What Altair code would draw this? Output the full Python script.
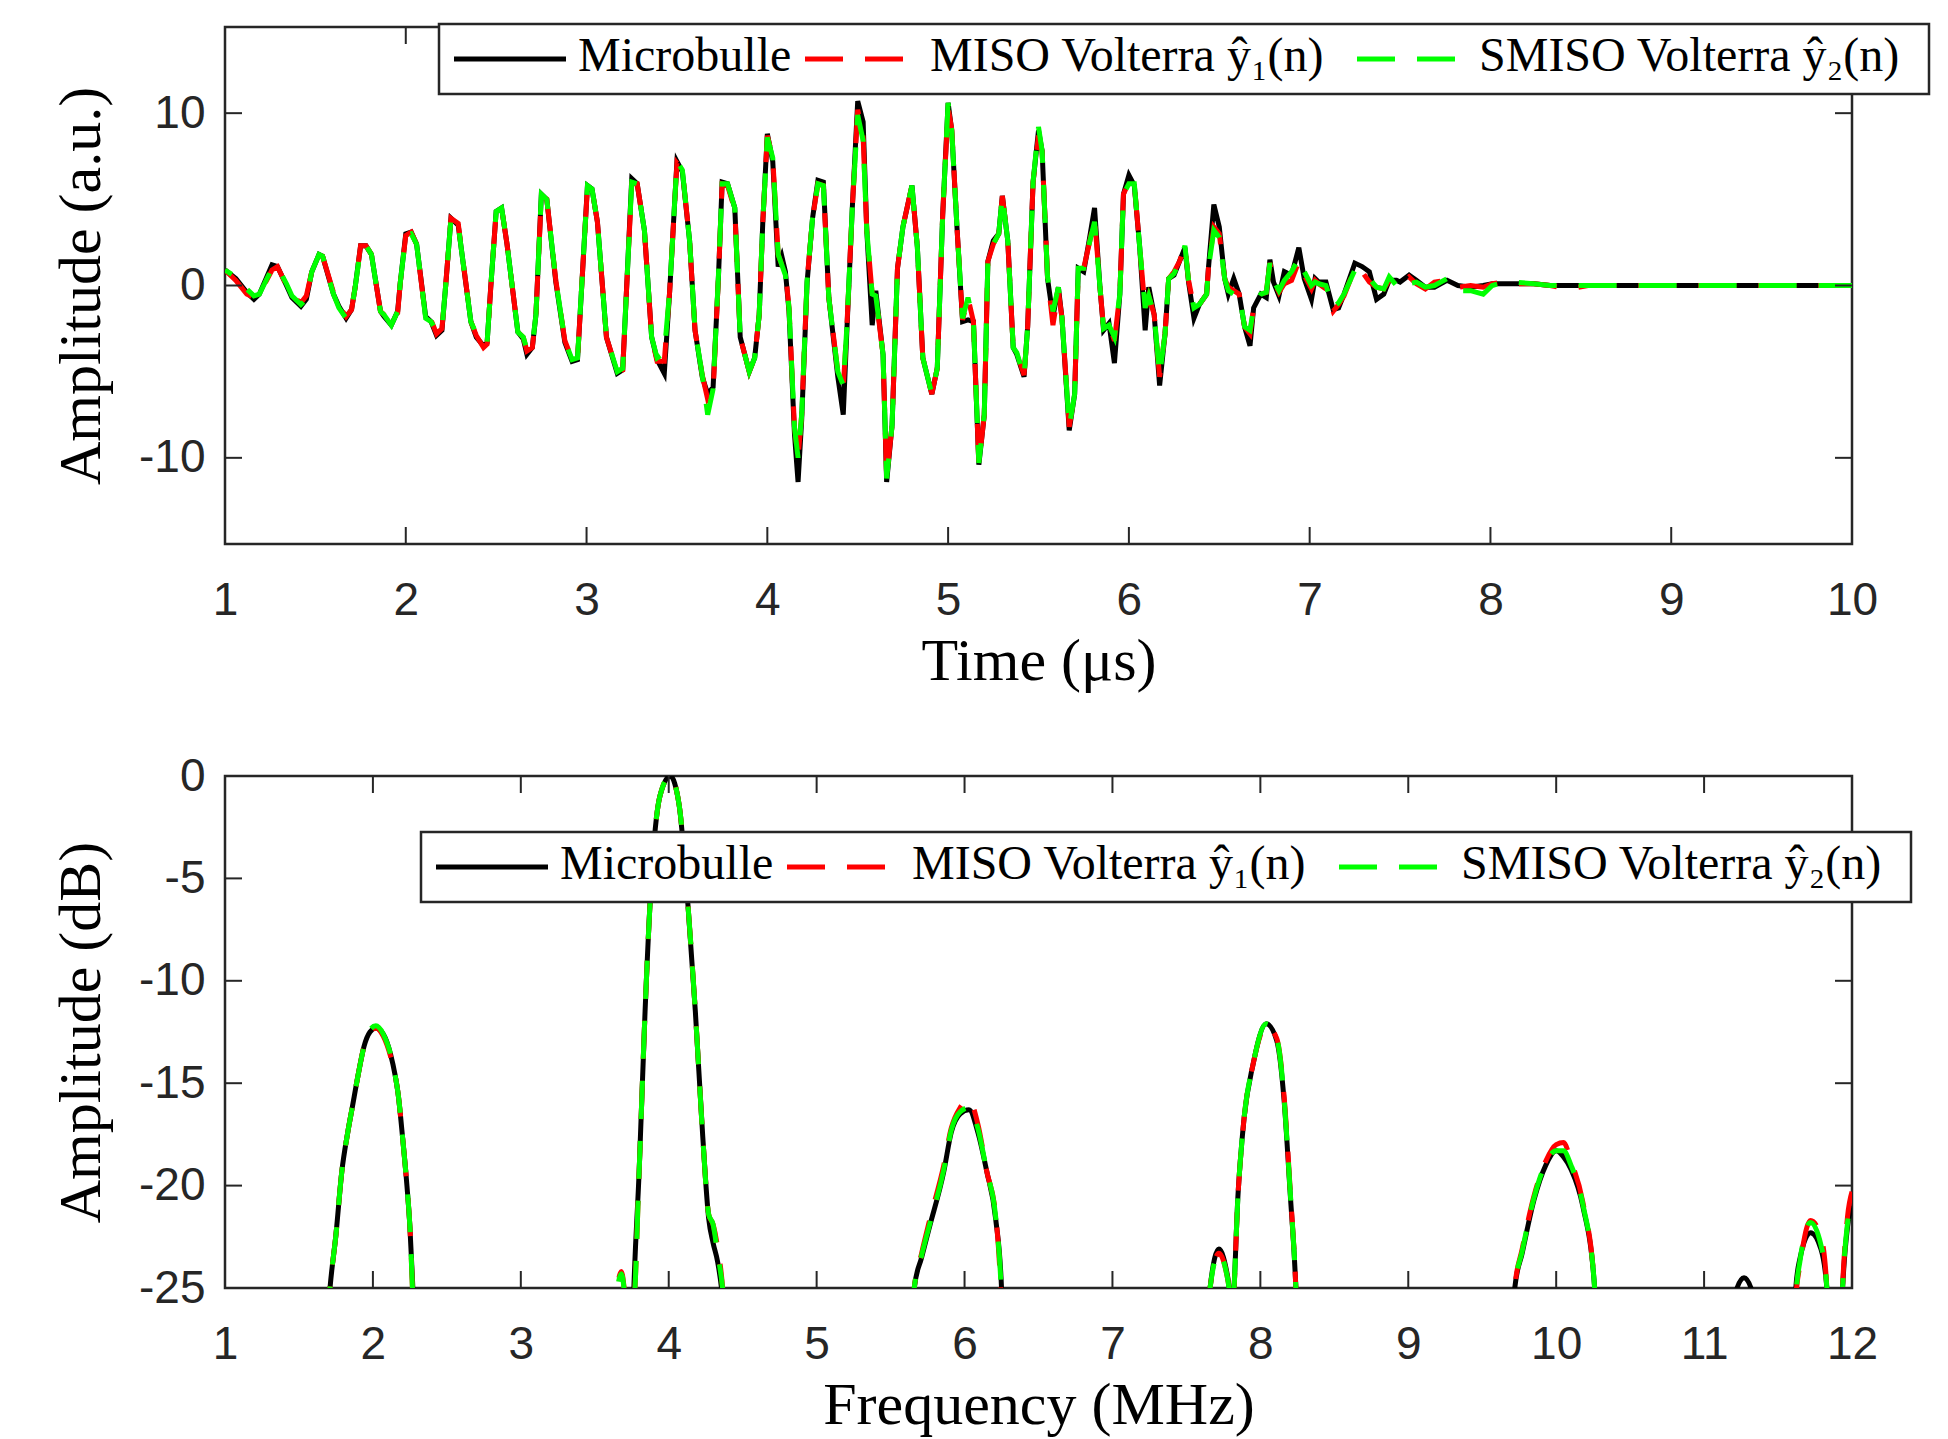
import altair as alt
import pandas as pd

SERIES = ["Microbulle", "MISO Volterra ŷ₁(n)", "SMISO Volterra ŷ₂(n)"]
SERIES_COLORS = ["#000000", "#ff0000", "#00ff00"]

# ---------------- time signal (µs, a.u.) ----------------
t_us = [1.00, 1.06, 1.12, 1.16, 1.19, 1.26, 1.29, 1.34, 1.37, 1.42, 1.45, 1.48,
        1.52, 1.54, 1.60, 1.63, 1.67, 1.70, 1.72, 1.75, 1.78, 1.81, 1.86, 1.88, 1.92, 1.955, 1.97,
        2.00, 2.03, 2.06, 2.11, 2.14, 2.17, 2.20, 2.22, 2.25, 2.29, 2.36, 2.39, 2.43, 2.45, 2.47,
        2.50, 2.53, 2.56, 2.62, 2.65, 2.67, 2.70, 2.72, 2.75, 2.78, 2.83, 2.88, 2.92, 2.95, 2.98,
        3.005, 3.03, 3.06, 3.11, 3.17, 3.20, 3.22, 3.25, 3.28, 3.32, 3.36, 3.39, 3.43, 3.46,
        3.50, 3.53, 3.57, 3.60, 3.64, 3.67, 3.70, 3.73, 3.75, 3.78, 3.82, 3.85, 3.90, 3.93, 3.955, 3.975,
        4.00, 4.03, 4.06, 4.08, 4.10, 4.12, 4.15, 4.17, 4.19, 4.22, 4.25, 4.28, 4.31, 4.34, 4.39, 4.42, 4.44, 4.47,
        4.50, 4.53, 4.55, 4.58, 4.60, 4.64, 4.66, 4.69, 4.72, 4.75, 4.80, 4.83, 4.86, 4.91, 4.94, 4.97,
        5.00, 5.02, 5.05, 5.08, 5.11, 5.14, 5.17, 5.20, 5.22, 5.25, 5.28, 5.30, 5.33, 5.36, 5.38, 5.42, 5.44, 5.47,
        5.50, 5.52, 5.55, 5.58, 5.61, 5.63, 5.67, 5.70, 5.72, 5.75, 5.78, 5.81, 5.84, 5.86, 5.89, 5.92, 5.95, 5.97,
        6.00, 6.03, 6.06, 6.09, 6.11, 6.14, 6.17, 6.20, 6.22, 6.25, 6.28, 6.31, 6.33, 6.36, 6.39, 6.43, 6.44, 6.47,
        6.50, 6.53, 6.55, 6.58, 6.61, 6.64, 6.67, 6.69, 6.73, 6.76, 6.78, 6.80, 6.83, 6.86, 6.90, 6.94, 6.97,
        7.01, 7.03, 7.05, 7.09, 7.13, 7.16, 7.19, 7.25, 7.29, 7.33, 7.37, 7.41, 7.44, 7.48,
        7.50, 7.55, 7.59, 7.64, 7.69, 7.76, 7.82, 7.89, 7.96, 8.01, 8.08, 8.13, 8.24, 8.33, 8.43, 8.54, 10.0]

amp_micro = [0.9, 0.4, -0.4, -0.8, -0.5, 1.2, 1.1, 0.0, -0.7, -1.2, -0.8, 0.8,
             1.8, 1.7, -0.5, -1.2, -1.9, -1.4, -0.1, 2.3, 2.3, 1.8, -1.5, -1.8, -2.3, -1.5, 0.2,
             3.0, 3.1, 2.4, -1.8, -2.1, -2.9, -2.6, -0.1, 3.9, 3.5, -2.1, -3.0, -3.5, -3.3, -0.1,
             4.3, 4.5, 2.4, -2.7, -3.1, -4.0, -3.6, -1.7, 5.3, 5.0, 0.2, -3.3, -4.4, -4.3, 1.2,
             5.8, 5.6, 3.7, -3.0, -5.1, -4.9, -0.5, 6.2, 5.9, 3.2, -3.0, -4.3, -5.1, -0.3,
             7.2, 6.6, 2.6, -2.6, -5.3, -6.3, -5.9, 0.6, 6.0, 5.9, 4.5, -3.0, -5.0, -4.2, -1.7, 3.7,
             8.8, 7.2, 1.1, 1.7, 0.8, -1.5, -8.6, -11.4, -7.8, 0.2, 3.9, 6.1, 6.0, -0.7, -5.3, -7.5, -2.6, 4.5,
             10.7, 9.5, 3.2, -2.3, -0.3, -4.0, -11.4, -8.1, 1.0, 3.4, 5.8, 2.2, -4.2, -6.3, -4.8, 4.1,
             10.6, 9.0, 3.2, -2.1, -2.0, -2.1, -10.4, -7.5, 1.4, 2.6, 3.0, 5.2, 2.6, -3.6, -4.0, -5.3, -2.4, 6.0,
             9.0, 7.8, 0.4, -1.8, -0.1, -1.9, -8.4, -6.3, 1.0, 0.8, 2.6, 4.5, -0.1, -2.6, -2.2, -4.5, -0.5, 5.3,
             6.4, 5.8, 2.2, -2.6, -0.1, -1.7, -5.8, -2.8, 0.4, 0.6, 1.4, 2.2, 0.2, -1.9, -1.1, -0.5, 1.0, 4.7,
             3.4, 0.4, -0.5, 0.4, -0.5, -2.4, -3.5, -1.3, -0.5, -0.7, 1.5, 0.2, -0.6, 0.8, 0.6, 2.2, 0.4,
             -0.8, 0.4, 0.2, 0.2, -1.4, -1.3, -0.5, 1.3, 1.1, 0.8, -0.8, -0.5, 0.3, 0.3,
             0.2, 0.6, 0.3, -0.1, -0.1, 0.3, 0.0, -0.1, 0.0, 0.1, 0.1, 0.1, 0.1, 0.0, 0.0, 0.0, 0.0]

amp_miso = [0.9, 0.3, -0.5, -0.7, -0.5, 0.9, 1.1, 0.0, -0.6, -1.0, -0.6, 0.8,
            1.8, 1.7, -0.4, -1.2, -1.8, -1.4, -0.1, 2.3, 2.3, 1.8, -1.5, -1.7, -2.2, -1.6, 0.2,
            2.9, 3.1, 2.4, -1.9, -2.0, -2.8, -2.5, -0.1, 3.9, 3.6, -2.1, -2.9, -3.6, -3.4, -0.1,
            4.3, 4.5, 2.4, -2.7, -3.0, -3.8, -3.6, -1.7, 5.2, 5.0, 0.3, -3.2, -4.3, -4.3, 1.2,
            5.7, 5.6, 3.7, -3.0, -5.0, -4.9, -0.5, 5.9, 5.9, 3.2, -3.0, -4.4, -4.4, -0.3,
            7.1, 6.7, 2.6, -2.6, -5.2, -6.6, -6.2, 0.6, 5.9, 5.8, 4.4, -3.0, -5.0, -4.2, -1.7, 3.7,
            8.7, 7.4, 1.8, 1.2, 0.8, -1.3, -8.2, -10.0, -7.5, 0.3, 3.9, 5.9, 5.8, -0.7, -5.0, -5.9, -2.4, 4.5,
            10.2, 8.6, 3.2, -0.5, -0.6, -4.0, -11.2, -8.1, 1.0, 3.4, 5.8, 2.2, -4.2, -6.3, -4.8, 4.1,
            10.3, 9.1, 3.2, -2.0, -0.7, -2.1, -10.4, -7.5, 1.4, 2.4, 3.0, 5.2, 2.6, -3.6, -3.9, -5.2, -2.4, 6.0,
            8.7, 7.8, 0.5, -2.3, -0.3, -1.9, -8.2, -6.3, 1.0, 1.0, 2.4, 3.9, -0.1, -2.5, -2.3, -3.2, -0.5, 5.3,
            6.0, 5.9, 2.2, -1.4, -0.6, -1.7, -5.3, -2.8, 0.4, 0.8, 1.4, 2.3, 0.3, -1.3, -1.1, -0.5, 1.0, 3.4,
            3.0, 0.4, -0.1, -0.3, -0.5, -2.4, -2.8, -1.3, -0.5, -0.4, 1.3, 0.3, -0.4, 0.1, 0.3, 1.4, 0.6,
            -0.2, 0.3, 0.1, -0.2, -1.5, -1.1, -0.6, 1.0, 0.8, 0.2, -0.1, -0.2, 0.3, 0.1,
            0.0, 0.5, 0.1, -0.2, 0.2, 0.3, -0.1, 0.0, -0.1, 0.1, 0.2, 0.1, 0.1, 0.0, -0.2, 0.0, 0.0]

amp_smiso = [0.9, 0.5, -0.2, -0.6, -0.5, 1.0, 1.1, 0.1, -0.6, -1.1, -0.8, 0.8,
             1.8, 1.7, -0.5, -1.3, -1.9, -1.4, -0.1, 2.2, 2.3, 1.8, -1.5, -1.7, -2.3, -1.5, 0.2,
             2.9, 3.0, 2.4, -1.9, -2.1, -2.7, -2.5, -0.1, 3.9, 3.5, -2.1, -2.8, -3.4, -3.3, -0.1,
             4.3, 4.5, 2.4, -2.7, -3.0, -3.7, -3.5, -1.7, 5.3, 5.0, 0.3, -3.2, -4.3, -4.2, 1.2,
             5.8, 5.6, 3.7, -3.0, -5.0, -4.8, -0.5, 6.0, 5.9, 3.2, -3.0, -4.2, -3.9, -0.3,
             7.2, 6.7, 2.6, -2.6, -5.2, -7.5, -6.0, 0.7, 5.9, 5.9, 4.5, -3.0, -5.0, -4.2, -1.7, 3.7,
             8.6, 7.4, 1.8, 1.2, 0.6, -1.3, -8.2, -10.0, -7.5, 0.3, 3.9, 5.9, 5.8, -0.7, -5.0, -5.8, -2.4, 4.5,
             9.9, 8.4, 3.2, -0.5, -0.6, -4.0, -11.2, -8.1, 1.0, 3.4, 5.8, 2.2, -4.2, -6.3, -4.8, 4.1,
             10.6, 9.0, 3.2, -1.9, -0.7, -2.1, -10.3, -7.5, 1.4, 2.4, 3.0, 5.2, 2.6, -3.6, -3.9, -5.3, -2.4, 6.0,
             9.2, 7.8, 0.5, -1.5, -0.1, -1.9, -8.2, -6.3, 1.0, 1.0, 2.4, 3.7, -0.1, -2.5, -2.3, -3.0, -0.5, 5.3,
             5.9, 5.9, 2.2, -1.3, -0.6, -1.7, -5.2, -2.8, 0.4, 0.7, 1.4, 2.3, 0.3, -1.3, -1.1, -0.5, 1.0, 3.2,
             2.8, 0.4, -0.3, -0.5, -0.5, -2.4, -2.6, -1.3, -0.5, -0.4, 1.3, 0.3, -0.3, 0.3, 0.8, 1.6, 0.8,
             0.0, 0.2, 0.1, 0.0, -1.3, -1.0, -0.5, 0.9, 0.7, 0.4, -0.1, -0.2, 0.5, 0.0,
             -0.3, 0.1, 0.2, -0.1, 0.0, 0.4, -0.3, -0.3, -0.5, 0.0, 0.2, 0.2, 0.1, 0.0, 0.0, 0.0, 0.0]

# ---------------- spectrum (MHz, dB) ----------------
f_mhz = [1.0, 1.6, 1.71, 1.75, 1.79, 1.83, 1.86, 1.90, 1.94, 1.98, 2.02, 2.07, 2.12, 2.15, 2.17, 2.20, 2.23, 2.25, 2.27, 2.35,
         3.6, 3.64, 3.68, 3.72, 3.76, 3.80, 3.84, 3.88, 3.94, 4.01, 4.07, 4.13, 4.18, 4.23, 4.27, 4.30, 4.33, 4.37, 4.45,
         5.6, 5.66, 5.71, 5.76, 5.86, 5.91, 5.97, 6.03, 6.09, 6.15, 6.21, 6.25, 6.3,
         7.6, 7.66, 7.72, 7.78, 7.81, 7.85, 7.89, 7.95, 8.04, 8.11, 8.16, 8.20, 8.24, 8.3,
         9.65, 9.72, 9.77, 9.85, 9.93, 10.0, 10.05, 10.1, 10.18, 10.26, 10.32,
         11.15, 11.21, 11.27, 11.33, 11.4, 11.58, 11.62, 11.65, 11.72, 11.79, 11.83, 11.88, 11.93, 11.97, 12.0]

db_micro = [-40, -40, -25, -22.4, -19.3, -17.4, -16.2, -14.6, -13.2, -12.5, -12.3, -12.6, -13.6, -14.6, -15.5, -17.6, -20.0, -22.0, -25, -40,
            -40, -40, -40, -40, -26, -19.3, -11.5, -5.4, -1.0, 0.0, -1.4, -6.3, -11.5, -17.6, -21.6, -22.8, -23.7, -26, -40,
            -40, -25, -23.5, -22.1, -19.3, -17.4, -16.5, -16.3, -17.4, -19.3, -21.6, -25, -40,
            -40, -25, -23.1, -24.5, -26, -20.3, -16.7, -14.1, -12.1, -12.9, -15.8, -20.2, -25, -40,
            -40, -25, -23.3, -20.7, -19.0, -18.3, -18.6, -19.2, -21.0, -25, -40,
            -40, -25.3, -24.5, -25.3, -40, -40, -25, -23.5, -22.3, -23.1, -25, -40, -26, -22.0, -21.0]

db_miso = [-40, -40, -25, -22.4, -19.3, -17.4, -16.2, -14.6, -13.2, -12.5, -12.3, -12.7, -13.7, -14.6, -15.5, -17.6, -20.0, -22.0, -25.5, -40,
           -40, -26, -24.2, -26, -26, -19.3, -11.5, -5.4, -1.0, 0.0, -1.4, -6.3, -11.5, -17.6, -21.4, -21.9, -23.0, -25.5, -40,
           -40, -25, -23.3, -21.8, -19.0, -17.2, -16.2, -15.8, -17.0, -19.3, -21.4, -26, -40,
           -40, -25, -23.3, -24.6, -26, -20.3, -16.7, -14.1, -12.2, -12.8, -15.6, -20.0, -25, -40,
           -40, -25, -23.1, -20.5, -18.8, -18.0, -17.9, -18.8, -20.8, -25, -40,
           -40, -40, -40, -40, -40, -40, -25.5, -23.8, -21.7, -22.5, -25, -40, -26, -21.5, -20.3]

db_smiso = [-40, -40, -25, -22.4, -19.3, -17.4, -16.2, -14.6, -13.2, -12.4, -12.2, -12.6, -13.6, -14.6, -15.5, -17.6, -20.0, -22.0, -25.5, -40,
            -40, -26, -24.3, -26, -26, -19.3, -11.5, -5.4, -1.0, 0.0, -1.4, -6.3, -11.5, -17.6, -21.4, -21.9, -23.3, -25.5, -40,
            -40, -25, -23.4, -22.0, -19.2, -17.3, -16.4, -16.2, -17.2, -19.3, -21.5, -25.5, -40,
            -40, -25, -23.3, -24.6, -26, -20.3, -16.7, -14.1, -12.1, -12.8, -15.7, -20.1, -25, -40,
            -40, -25, -23.2, -20.6, -18.9, -18.3, -18.3, -19.0, -20.9, -25, -40,
            -40, -40, -40, -40, -40, -40, -25.5, -23.6, -21.8, -22.9, -25, -40, -26, -21.8, -20.8]

time_ticks = [1, 2, 3, 4, 5, 6, 7, 8, 9, 10]
amp_ticks = [-10, 0, 10]
freq_ticks = [1, 2, 3, 4, 5, 6, 7, 8, 9, 10, 11, 12]
db_ticks = [-25, -20, -15, -10, -5, 0]

# ---------------- styling ----------------
W = 1627
H_TOP = 517
H_BOT = 512
AXIS_COLOR = "#262626"
TICK_LEN = 17
LINE_W = 5
DASH = [38, 22]
LEG_W = 1490
LEG_H = 70
SYM_X = [15, 366, 918]
SYM_LEN = [112, 99, 99]
TXT_X = [139, 491, 1040]

common_axis = dict(
    ticks=False, domain=False, grid=False,
    labelFont="Liberation Sans", labelFontSize=46, labelColor=AXIS_COLOR,
    labelExpr="'' + datum.value", labelFlush=False, labelOverlap=False,
    titleFont="Liberation Serif", titleFontSize=60, titleFontWeight="normal",
    titleColor="#000000",
)


def long_frame(x, ys):
    frames = [pd.DataFrame({"x": x, "y": vals}).assign(s=name) for name, vals in zip(SERIES, ys)]
    return pd.concat(frames, ignore_index=True)


def panel(x, ys, x_dom, y_dom, x_ticks, y_ticks, x_title, y_title, H, green_offset, leg_x, leg_y, interp):
    df = long_frame(x, ys)
    xsc = alt.Scale(domain=x_dom, nice=False, zero=False)
    ysc = alt.Scale(domain=y_dom, nice=False, zero=False)
    xenc = alt.X("x:Q", scale=xsc,
                 axis=alt.Axis(values=x_ticks, title=x_title, labelPadding=34, titlePadding=9, **common_axis))
    yenc = alt.Y("y:Q", scale=ysc,
                 axis=alt.Axis(values=y_ticks, title=y_title, labelPadding=20, titlePadding=26, **common_axis))

    layers = []
    for i, name in enumerate(SERIES):
        kw = dict(color=SERIES_COLORS[i], strokeWidth=LINE_W, clip=True, interpolate=interp)
        if i > 0:
            kw["strokeDash"] = DASH
        if i == 2 and green_offset:
            kw["strokeDashOffset"] = green_offset
        layers.append(
            alt.Chart(df).transform_filter(alt.datum.s == name).mark_line(**kw).encode(x=xenc, y=yenc)
        )

    xt = pd.DataFrame({"x": x_ticks})
    yt = pd.DataFrame({"y": y_ticks})
    rk = dict(color=AXIS_COLOR, strokeWidth=2)
    layers.append(alt.Chart(xt).mark_rule(**rk).encode(x=xenc, y=alt.value(H), y2=alt.value(H - TICK_LEN)))
    layers.append(alt.Chart(xt).mark_rule(**rk).encode(x=xenc, y=alt.value(0), y2=alt.value(TICK_LEN)))
    layers.append(alt.Chart(yt).mark_rule(**rk).encode(y=yenc, x=alt.value(0), x2=alt.value(TICK_LEN)))
    layers.append(alt.Chart(yt).mark_rule(**rk).encode(y=yenc, x=alt.value(W), x2=alt.value(W - TICK_LEN)))

    # legend box
    layers.append(
        alt.Chart(pd.DataFrame({"s": ["legend"]})).mark_rect(fill="white", stroke=AXIS_COLOR, strokeWidth=2.5)
        .encode(x=alt.value(leg_x), x2=alt.value(leg_x + LEG_W), y=alt.value(leg_y), y2=alt.value(leg_y + LEG_H))
    )
    yc = leg_y + LEG_H / 2
    for i, name in enumerate(SERIES):
        ent = pd.DataFrame({"s": [name]})
        kw = dict(color=SERIES_COLORS[i], strokeWidth=LINE_W)
        if i > 0:
            kw["strokeDash"] = DASH
        layers.append(
            alt.Chart(ent).mark_rule(**kw).encode(
                x=alt.value(leg_x + SYM_X[i]), x2=alt.value(leg_x + SYM_X[i] + SYM_LEN[i]), y=alt.value(yc))
        )
        layers.append(
            alt.Chart(ent).mark_text(align="left", baseline="middle", font="Liberation Serif",
                                     fontSize=48, color="#000000")
            .encode(text="s:N", x=alt.value(leg_x + TXT_X[i]), y=alt.value(yc - 2))
        )
    return alt.layer(*layers).properties(width=W, height=H)


top = panel(t_us, [amp_micro, amp_miso, amp_smiso], [1, 10], [-15, 15], time_ticks, amp_ticks,
            "Time (μs)", "Amplitude (a.u.)", H_TOP, 30, 214, -3, "linear")
bottom = panel(f_mhz, [db_micro, db_miso, db_smiso], [1, 12], [-25, 0], freq_ticks, db_ticks,
               "Frequency (MHz)", "Amplitude (dB)", H_BOT, 0, 196, 56, "monotone")

chart = (
    alt.vconcat(top, bottom, spacing=58)
    .properties(padding={"left": 42, "top": 13, "right": 5, "bottom": 5})
    .configure_view(stroke=AXIS_COLOR, strokeWidth=2.5)
)

chart.save("out.html", embed_options={"renderer": "svg", "actions": False})
